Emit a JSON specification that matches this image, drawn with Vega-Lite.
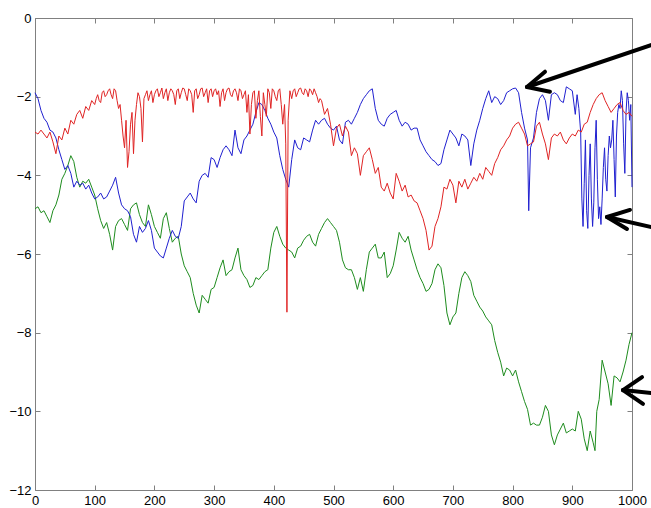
{
"$schema": "https://vega.github.io/schema/vega-lite/v6.json",
"width": 597, "height": 472,
"autosize": {"type": "none"},
"padding": {"left": 35, "top": 18, "right": 19, "bottom": 18},
"background": "white",
"config": {"view": {"stroke": null},
 "axis": {"grid": false, "title": null, "domainColor": "#808080", "tickColor": "#808080", "labelColor": "#000000", "labelFont": "Liberation Sans", "labelFontSize": 13, "tickSize": -5, "labelPadding": 9, "labelFlush": false, "labelOverlap": false, "labelBound": false, "format": "d"}},
"datasets": {
"green": [
{"x":0,"y":-4.85},{"x":5,"y":-4.8},{"x":10,"y":-4.95},{"x":15,"y":-4.9},{"x":20,"y":-5.05},{"x":25,"y":-5.2},{"x":30,"y":-4.9},{"x":35,"y":-4.75},{"x":40,"y":-4.5},{"x":45,"y":-4.1},{"x":50,"y":-3.95},{"x":55,"y":-3.75},{"x":60,"y":-3.5},{"x":65,"y":-3.65},{"x":70,"y":-4.05},{"x":75,"y":-4.3},{"x":80,"y":-4.15},{"x":85,"y":-4.2},{"x":90,"y":-4.1},{"x":95,"y":-4.3},{"x":100,"y":-4.5},{"x":105,"y":-4.85},{"x":110,"y":-5.15},{"x":115,"y":-5.35},{"x":120,"y":-5.2},{"x":125,"y":-5.5},{"x":130,"y":-5.9},{"x":135,"y":-5.3},{"x":140,"y":-5.15},{"x":145,"y":-5.1},{"x":150,"y":-5.25},{"x":155,"y":-5.4},{"x":160,"y":-4.85},{"x":165,"y":-4.75},{"x":170,"y":-4.7},{"x":175,"y":-5.0},{"x":180,"y":-5.2},{"x":185,"y":-5.3},{"x":190,"y":-4.75},{"x":195,"y":-5.0},{"x":200,"y":-5.3},{"x":205,"y":-5.45},{"x":210,"y":-5.6},{"x":215,"y":-5.1},{"x":220,"y":-4.95},{"x":225,"y":-5.35},{"x":230,"y":-5.7},{"x":235,"y":-5.6},{"x":240,"y":-5.55},{"x":245,"y":-6.0},{"x":250,"y":-6.3},{"x":255,"y":-6.45},{"x":260,"y":-6.6},{"x":265,"y":-7.0},{"x":270,"y":-7.3},{"x":275,"y":-7.5},{"x":280,"y":-7.05},{"x":285,"y":-7.15},{"x":290,"y":-7.25},{"x":295,"y":-6.9},{"x":300,"y":-6.85},{"x":305,"y":-6.6},{"x":310,"y":-6.35},{"x":315,"y":-6.15},{"x":320,"y":-6.55},{"x":325,"y":-6.45},{"x":330,"y":-6.4},{"x":335,"y":-6.1},{"x":340,"y":-5.85},{"x":345,"y":-6.4},{"x":350,"y":-6.55},{"x":355,"y":-6.65},{"x":360,"y":-6.85},{"x":365,"y":-6.8},{"x":370,"y":-6.6},{"x":375,"y":-6.65},{"x":380,"y":-6.55},{"x":385,"y":-6.45},{"x":390,"y":-6.4},{"x":395,"y":-5.85},{"x":400,"y":-5.45},{"x":405,"y":-5.3},{"x":410,"y":-5.55},{"x":415,"y":-5.75},{"x":420,"y":-5.85},{"x":425,"y":-5.9},{"x":430,"y":-5.95},{"x":435,"y":-6.1},{"x":440,"y":-5.85},{"x":445,"y":-5.8},{"x":450,"y":-5.65},{"x":455,"y":-5.55},{"x":460,"y":-5.5},{"x":465,"y":-5.7},{"x":470,"y":-5.8},{"x":475,"y":-5.5},{"x":480,"y":-5.35},{"x":485,"y":-5.2},{"x":490,"y":-5.1},{"x":495,"y":-5.2},{"x":500,"y":-5.3},{"x":505,"y":-5.4},{"x":510,"y":-5.7},{"x":515,"y":-6.15},{"x":520,"y":-6.35},{"x":525,"y":-6.4},{"x":530,"y":-6.4},{"x":535,"y":-6.6},{"x":540,"y":-6.9},{"x":545,"y":-6.6},{"x":550,"y":-6.95},{"x":555,"y":-6.4},{"x":560,"y":-5.95},{"x":565,"y":-5.85},{"x":570,"y":-5.75},{"x":575,"y":-6.1},{"x":580,"y":-6.1},{"x":585,"y":-5.95},{"x":590,"y":-6.6},{"x":595,"y":-6.5},{"x":600,"y":-6.3},{"x":605,"y":-5.9},{"x":610,"y":-5.45},{"x":615,"y":-5.6},{"x":620,"y":-5.7},{"x":625,"y":-5.55},{"x":630,"y":-5.9},{"x":635,"y":-6.15},{"x":640,"y":-6.4},{"x":645,"y":-6.6},{"x":650,"y":-6.75},{"x":655,"y":-6.95},{"x":660,"y":-6.9},{"x":665,"y":-6.75},{"x":670,"y":-6.4},{"x":675,"y":-6.25},{"x":680,"y":-6.35},{"x":685,"y":-6.8},{"x":690,"y":-7.5},{"x":695,"y":-7.8},{"x":700,"y":-7.6},{"x":705,"y":-7.5},{"x":710,"y":-7.0},{"x":715,"y":-6.6},{"x":720,"y":-6.45},{"x":725,"y":-6.55},{"x":730,"y":-6.7},{"x":735,"y":-7.05},{"x":740,"y":-7.2},{"x":745,"y":-7.35},{"x":750,"y":-7.45},{"x":755,"y":-7.6},{"x":760,"y":-7.7},{"x":765,"y":-7.8},{"x":770,"y":-8.2},{"x":775,"y":-8.5},{"x":780,"y":-8.75},{"x":785,"y":-9.1},{"x":790,"y":-8.9},{"x":795,"y":-8.95},{"x":800,"y":-9.1},{"x":805,"y":-8.95},{"x":810,"y":-9.25},{"x":815,"y":-9.5},{"x":820,"y":-9.75},{"x":825,"y":-9.95},{"x":830,"y":-10.35},{"x":835,"y":-10.3},{"x":840,"y":-10.35},{"x":845,"y":-10.35},{"x":850,"y":-10.15},{"x":855,"y":-9.85},{"x":860,"y":-10.0},{"x":865,"y":-10.6},{"x":870,"y":-10.85},{"x":875,"y":-10.6},{"x":880,"y":-10.45},{"x":885,"y":-10.3},{"x":890,"y":-10.55},{"x":895,"y":-10.5},{"x":900,"y":-10.45},{"x":905,"y":-10.5},{"x":910,"y":-10.0},{"x":915,"y":-10.2},{"x":920,"y":-10.7},{"x":925,"y":-11.0},{"x":930,"y":-10.5},{"x":935,"y":-10.8},{"x":938,"y":-11.0},{"x":941,"y":-10.0},{"x":945,"y":-9.7},{"x":950,"y":-8.7},{"x":955,"y":-9.0},{"x":960,"y":-9.3},{"x":965,"y":-9.85},{"x":970,"y":-9.1},{"x":975,"y":-9.15},{"x":980,"y":-9.25},{"x":985,"y":-9.0},{"x":990,"y":-8.7},{"x":995,"y":-8.3},{"x":1000,"y":-8.0}
],
"blue": [
{"x":0,"y":-1.9},{"x":5,"y":-2.05},{"x":10,"y":-2.35},{"x":15,"y":-2.55},{"x":20,"y":-2.65},{"x":25,"y":-2.85},{"x":30,"y":-2.9},{"x":35,"y":-3.05},{"x":40,"y":-3.35},{"x":45,"y":-3.6},{"x":50,"y":-3.85},{"x":55,"y":-3.75},{"x":60,"y":-3.95},{"x":65,"y":-4.3},{"x":70,"y":-4.15},{"x":75,"y":-4.25},{"x":80,"y":-4.2},{"x":85,"y":-4.35},{"x":90,"y":-4.25},{"x":95,"y":-4.45},{"x":100,"y":-4.6},{"x":105,"y":-4.55},{"x":110,"y":-4.45},{"x":115,"y":-4.6},{"x":120,"y":-4.55},{"x":125,"y":-4.4},{"x":130,"y":-4.25},{"x":135,"y":-4.05},{"x":140,"y":-4.45},{"x":145,"y":-4.75},{"x":150,"y":-4.85},{"x":155,"y":-4.9},{"x":160,"y":-5.05},{"x":165,"y":-5.5},{"x":170,"y":-5.7},{"x":175,"y":-5.3},{"x":180,"y":-5.45},{"x":185,"y":-5.35},{"x":190,"y":-5.15},{"x":195,"y":-5.4},{"x":200,"y":-5.85},{"x":205,"y":-5.95},{"x":210,"y":-6.05},{"x":215,"y":-6.1},{"x":220,"y":-5.85},{"x":225,"y":-5.6},{"x":230,"y":-5.4},{"x":235,"y":-5.55},{"x":240,"y":-5.6},{"x":245,"y":-5.3},{"x":250,"y":-4.65},{"x":255,"y":-4.55},{"x":260,"y":-4.45},{"x":265,"y":-4.6},{"x":270,"y":-4.7},{"x":275,"y":-4.15},{"x":280,"y":-4.0},{"x":285,"y":-3.95},{"x":290,"y":-4.05},{"x":295,"y":-3.55},{"x":300,"y":-3.6},{"x":305,"y":-3.8},{"x":310,"y":-3.55},{"x":315,"y":-3.35},{"x":320,"y":-3.25},{"x":325,"y":-3.35},{"x":330,"y":-3.5},{"x":335,"y":-2.85},{"x":340,"y":-3.3},{"x":345,"y":-3.45},{"x":350,"y":-3.1},{"x":355,"y":-3.0},{"x":360,"y":-2.85},{"x":365,"y":-2.7},{"x":370,"y":-2.4},{"x":375,"y":-2.15},{"x":380,"y":-2.2},{"x":385,"y":-2.35},{"x":390,"y":-2.55},{"x":395,"y":-2.7},{"x":400,"y":-2.9},{"x":405,"y":-3.05},{"x":410,"y":-3.5},{"x":415,"y":-3.85},{"x":420,"y":-4.1},{"x":425,"y":-4.3},{"x":430,"y":-3.6},{"x":435,"y":-3.1},{"x":440,"y":-3.3},{"x":445,"y":-3.35},{"x":450,"y":-3.05},{"x":455,"y":-3.1},{"x":460,"y":-3.15},{"x":465,"y":-2.85},{"x":470,"y":-2.6},{"x":475,"y":-2.7},{"x":480,"y":-2.6},{"x":485,"y":-2.55},{"x":490,"y":-2.7},{"x":495,"y":-2.8},{"x":500,"y":-2.85},{"x":505,"y":-2.75},{"x":510,"y":-3.1},{"x":515,"y":-3.2},{"x":520,"y":-2.65},{"x":525,"y":-2.6},{"x":530,"y":-2.7},{"x":535,"y":-2.55},{"x":540,"y":-2.4},{"x":545,"y":-2.2},{"x":550,"y":-2.05},{"x":555,"y":-1.95},{"x":560,"y":-1.85},{"x":565,"y":-1.8},{"x":570,"y":-2.3},{"x":575,"y":-2.6},{"x":580,"y":-2.7},{"x":585,"y":-2.75},{"x":590,"y":-2.55},{"x":595,"y":-2.45},{"x":600,"y":-2.4},{"x":605,"y":-2.35},{"x":610,"y":-2.6},{"x":615,"y":-2.75},{"x":620,"y":-2.65},{"x":625,"y":-2.7},{"x":630,"y":-2.85},{"x":635,"y":-2.8},{"x":640,"y":-2.8},{"x":645,"y":-3.1},{"x":650,"y":-3.25},{"x":655,"y":-3.4},{"x":660,"y":-3.5},{"x":665,"y":-3.6},{"x":670,"y":-3.65},{"x":675,"y":-3.75},{"x":680,"y":-3.7},{"x":685,"y":-3.35},{"x":690,"y":-3.1},{"x":695,"y":-2.85},{"x":700,"y":-2.95},{"x":705,"y":-3.05},{"x":710,"y":-3.25},{"x":715,"y":-2.95},{"x":720,"y":-3.0},{"x":725,"y":-3.1},{"x":730,"y":-3.75},{"x":735,"y":-3.2},{"x":740,"y":-2.85},{"x":745,"y":-2.6},{"x":750,"y":-2.3},{"x":755,"y":-2.05},{"x":760,"y":-1.85},{"x":765,"y":-2.15},{"x":770,"y":-2.0},{"x":775,"y":-2.05},{"x":780,"y":-2.2},{"x":785,"y":-2.1},{"x":790,"y":-1.9},{"x":795,"y":-1.85},{"x":800,"y":-1.8},{"x":805,"y":-1.78},{"x":810,"y":-1.9},{"x":815,"y":-2.4},{"x":820,"y":-2.8},{"x":825,"y":-3.1},{"x":827,"y":-4.9},{"x":830,"y":-3.3},{"x":835,"y":-3.05},{"x":840,"y":-2.4},{"x":845,"y":-2.05},{"x":850,"y":-1.95},{"x":855,"y":-2.1},{"x":860,"y":-2.6},{"x":865,"y":-1.95},{"x":870,"y":-1.9},{"x":875,"y":-1.95},{"x":880,"y":-2.1},{"x":885,"y":-2.15},{"x":890,"y":-1.75},{"x":895,"y":-1.8},{"x":900,"y":-1.85},{"x":905,"y":-2.45},{"x":908,"y":-1.95},{"x":911,"y":-2.3},{"x":914,"y":-2.9},{"x":916,"y":-4.6},{"x":918,"y":-5.3},{"x":920,"y":-4.2},{"x":922,"y":-3.1},{"x":924,"y":-4.9},{"x":926,"y":-5.35},{"x":928,"y":-4.0},{"x":930,"y":-3.2},{"x":932,"y":-4.6},{"x":934,"y":-5.3},{"x":936,"y":-4.7},{"x":938,"y":-3.3},{"x":940,"y":-2.6},{"x":942,"y":-4.1},{"x":944,"y":-5.1},{"x":946,"y":-4.8},{"x":948,"y":-5.25},{"x":950,"y":-4.6},{"x":952,"y":-3.8},{"x":954,"y":-3.3},{"x":956,"y":-4.1},{"x":958,"y":-4.4},{"x":960,"y":-3.5},{"x":962,"y":-3.0},{"x":964,"y":-3.3},{"x":966,"y":-3.1},{"x":968,"y":-2.6},{"x":970,"y":-3.6},{"x":972,"y":-4.55},{"x":974,"y":-3.0},{"x":976,"y":-2.4},{"x":978,"y":-2.2},{"x":980,"y":-2.3},{"x":982,"y":-1.85},{"x":984,"y":-2.1},{"x":986,"y":-3.2},{"x":988,"y":-3.95},{"x":990,"y":-2.4},{"x":992,"y":-1.9},{"x":994,"y":-2.1},{"x":996,"y":-2.6},{"x":998,"y":-2.2},{"x":1000,"y":-4.3}
],
"red": [
{"x":0,"y":-2.9},{"x":5,"y":-2.95},{"x":10,"y":-2.85},{"x":15,"y":-2.95},{"x":20,"y":-3.05},{"x":25,"y":-2.9},{"x":30,"y":-3.15},{"x":35,"y":-3.45},{"x":40,"y":-3.0},{"x":45,"y":-3.1},{"x":50,"y":-2.8},{"x":55,"y":-2.95},{"x":60,"y":-2.6},{"x":65,"y":-2.7},{"x":70,"y":-2.45},{"x":75,"y":-2.35},{"x":80,"y":-2.55},{"x":85,"y":-2.25},{"x":90,"y":-2.35},{"x":95,"y":-2.1},{"x":100,"y":-2.2},{"x":105,"y":-1.95},{"x":110,"y":-2.15},{"x":115,"y":-1.85},{"x":120,"y":-1.95},{"x":125,"y":-1.8},{"x":130,"y":-2.05},{"x":135,"y":-1.85},{"x":140,"y":-2.3},{"x":145,"y":-2.6},{"x":150,"y":-3.3},{"x":155,"y":-3.8},{"x":160,"y":-2.7},{"x":165,"y":-3.45},{"x":170,"y":-2.2},{"x":175,"y":-2.0},{"x":180,"y":-3.15},{"x":185,"y":-1.95},{"x":190,"y":-2.1},{"x":195,"y":-1.85},{"x":200,"y":-1.95},{"x":205,"y":-1.8},{"x":210,"y":-1.9},{"x":215,"y":-2.05},{"x":220,"y":-1.8},{"x":225,"y":-1.9},{"x":230,"y":-1.85},{"x":235,"y":-2.2},{"x":240,"y":-1.8},{"x":245,"y":-1.9},{"x":250,"y":-1.8},{"x":255,"y":-2.1},{"x":260,"y":-1.85},{"x":265,"y":-2.4},{"x":270,"y":-1.8},{"x":275,"y":-1.95},{"x":280,"y":-1.78},{"x":285,"y":-1.9},{"x":290,"y":-2.15},{"x":295,"y":-1.8},{"x":300,"y":-1.85},{"x":305,"y":-1.95},{"x":310,"y":-2.25},{"x":315,"y":-1.8},{"x":320,"y":-1.9},{"x":325,"y":-1.78},{"x":330,"y":-2.0},{"x":335,"y":-1.8},{"x":340,"y":-2.1},{"x":345,"y":-1.85},{"x":350,"y":-1.95},{"x":355,"y":-2.4},{"x":360,"y":-2.95},{"x":365,"y":-1.9},{"x":370,"y":-2.55},{"x":375,"y":-1.85},{"x":380,"y":-3.0},{"x":385,"y":-2.2},{"x":390,"y":-1.8},{"x":395,"y":-2.3},{"x":400,"y":-1.85},{"x":405,"y":-2.1},{"x":410,"y":-1.8},{"x":415,"y":-2.7},{"x":418,"y":-2.2},{"x":420,"y":-3.2},{"x":422,"y":-7.48},{"x":424,"y":-2.6},{"x":427,"y":-1.85},{"x":430,"y":-2.05},{"x":435,"y":-1.8},{"x":440,"y":-1.9},{"x":445,"y":-1.78},{"x":450,"y":-1.95},{"x":455,"y":-1.85},{"x":460,"y":-1.8},{"x":465,"y":-1.95},{"x":470,"y":-1.9},{"x":475,"y":-2.15},{"x":480,"y":-2.1},{"x":485,"y":-2.45},{"x":490,"y":-2.3},{"x":495,"y":-2.7},{"x":500,"y":-3.25},{"x":505,"y":-2.8},{"x":510,"y":-2.7},{"x":515,"y":-3.0},{"x":520,"y":-2.75},{"x":525,"y":-2.9},{"x":530,"y":-3.5},{"x":535,"y":-3.3},{"x":540,"y":-3.45},{"x":545,"y":-4.0},{"x":550,"y":-3.5},{"x":555,"y":-3.4},{"x":560,"y":-3.3},{"x":565,"y":-3.6},{"x":570,"y":-3.95},{"x":575,"y":-3.8},{"x":580,"y":-4.3},{"x":585,"y":-4.4},{"x":590,"y":-4.2},{"x":595,"y":-4.45},{"x":600,"y":-4.6},{"x":605,"y":-3.95},{"x":610,"y":-4.15},{"x":615,"y":-4.4},{"x":620,"y":-4.25},{"x":625,"y":-4.55},{"x":630,"y":-4.5},{"x":635,"y":-4.65},{"x":640,"y":-4.7},{"x":645,"y":-4.9},{"x":650,"y":-5.1},{"x":655,"y":-5.4},{"x":660,"y":-5.9},{"x":665,"y":-5.8},{"x":670,"y":-5.3},{"x":675,"y":-5.1},{"x":680,"y":-4.8},{"x":685,"y":-4.3},{"x":690,"y":-4.35},{"x":695,"y":-4.1},{"x":700,"y":-4.25},{"x":705,"y":-4.7},{"x":710,"y":-4.15},{"x":715,"y":-4.3},{"x":720,"y":-4.1},{"x":725,"y":-4.35},{"x":730,"y":-4.2},{"x":735,"y":-4.05},{"x":740,"y":-4.15},{"x":745,"y":-3.95},{"x":750,"y":-4.1},{"x":755,"y":-3.8},{"x":760,"y":-3.9},{"x":765,"y":-4.0},{"x":770,"y":-3.7},{"x":775,"y":-3.55},{"x":780,"y":-3.35},{"x":785,"y":-3.25},{"x":790,"y":-3.1},{"x":795,"y":-3.0},{"x":800,"y":-2.8},{"x":805,"y":-2.7},{"x":810,"y":-2.65},{"x":815,"y":-2.8},{"x":820,"y":-2.95},{"x":825,"y":-3.25},{"x":830,"y":-3.2},{"x":835,"y":-3.15},{"x":840,"y":-2.75},{"x":845,"y":-2.65},{"x":850,"y":-2.95},{"x":855,"y":-3.2},{"x":860,"y":-3.6},{"x":865,"y":-3.05},{"x":870,"y":-2.95},{"x":875,"y":-3.0},{"x":880,"y":-2.9},{"x":885,"y":-3.1},{"x":890,"y":-3.2},{"x":895,"y":-3.05},{"x":900,"y":-2.95},{"x":905,"y":-3.0},{"x":910,"y":-2.85},{"x":915,"y":-2.9},{"x":920,"y":-2.7},{"x":925,"y":-2.65},{"x":930,"y":-2.4},{"x":935,"y":-2.2},{"x":940,"y":-2.05},{"x":945,"y":-1.95},{"x":950,"y":-1.9},{"x":955,"y":-2.1},{"x":960,"y":-2.25},{"x":965,"y":-2.4},{"x":970,"y":-2.3},{"x":975,"y":-2.2},{"x":980,"y":-2.15},{"x":985,"y":-2.35},{"x":990,"y":-2.45},{"x":995,"y":-2.4},{"x":1000,"y":-2.5},
{"x":102.5,"y":-2.05},{"x":107.5,"y":-2.1},{"x":112.5,"y":-1.9},{"x":117.5,"y":-2.0},{"x":122.5,"y":-1.85},{"x":127.5,"y":-1.95},{"x":132.5,"y":-1.8},{"x":137.5,"y":-2.1},{"x":142.5,"y":-2.2},{"x":147.5,"y":-3.0},{"x":152.5,"y":-2.6},{"x":157.5,"y":-3.4},{"x":162.5,"y":-2.4},{"x":167.5,"y":-2.6},{"x":172.5,"y":-1.9},{"x":177.5,"y":-2.3},{"x":182.5,"y":-2.05},{"x":187.5,"y":-1.85},{"x":192.5,"y":-1.95},{"x":197.5,"y":-2.15},{"x":202.5,"y":-1.85},{"x":207.5,"y":-2.0},{"x":212.5,"y":-1.78},{"x":217.5,"y":-1.9},{"x":222.5,"y":-2.1},{"x":227.5,"y":-1.8},{"x":232.5,"y":-1.95},{"x":237.5,"y":-1.85},{"x":242.5,"y":-2.05},{"x":247.5,"y":-1.78},{"x":252.5,"y":-1.95},{"x":257.5,"y":-1.8},{"x":262.5,"y":-1.95},{"x":267.5,"y":-1.85},{"x":272.5,"y":-2.05},{"x":277.5,"y":-1.8},{"x":282.5,"y":-2.0},{"x":287.5,"y":-1.8},{"x":292.5,"y":-1.85},{"x":297.5,"y":-2.0},{"x":302.5,"y":-1.8},{"x":307.5,"y":-1.85},{"x":312.5,"y":-1.9},{"x":317.5,"y":-2.1},{"x":322.5,"y":-1.8},{"x":327.5,"y":-1.95},{"x":332.5,"y":-1.85},{"x":337.5,"y":-1.9},{"x":342.5,"y":-1.8},{"x":347.5,"y":-2.05},{"x":352.5,"y":-1.85},{"x":357.5,"y":-1.95},{"x":362.5,"y":-2.2},{"x":367.5,"y":-1.85},{"x":372.5,"y":-2.1},{"x":377.5,"y":-2.5},{"x":382.5,"y":-1.9},{"x":387.5,"y":-2.5},{"x":392.5,"y":-1.9},{"x":397.5,"y":-1.8},{"x":402.5,"y":-2.0},{"x":407.5,"y":-1.85},{"x":412.5,"y":-2.2},{"x":432.5,"y":-1.85},{"x":437.5,"y":-2.0},{"x":442.5,"y":-1.8},{"x":447.5,"y":-1.9},{"x":452.5,"y":-1.8},{"x":457.5,"y":-2.0},{"x":462.5,"y":-1.85},{"x":467.5,"y":-1.8},{"x":472.5,"y":-2.0},{"x":477.5,"y":-2.05}
],
"arrows": [
{"x":824.1,"y":-1.754,"x2":1047,"y2":-0.61},{"x":824.1,"y":-1.754,"x2":854.3,"y2":-1.365},{"x":824.1,"y":-1.754,"x2":862.6,"y2":-1.874},
{"x":958.1,"y":-5.06,"x2":1047,"y2":-5.365},{"x":958.1,"y":-5.06,"x2":996.6,"y2":-4.88},{"x":958.1,"y":-5.06,"x2":991.6,"y2":-5.365},
{"x":984.9,"y":-9.46,"x2":1047,"y2":-9.56},{"x":984.9,"y":-9.46,"x2":1016.8,"y2":-9.13},{"x":984.9,"y":-9.46,"x2":1018.4,"y2":-9.81}
]
},
"layer": [
{"data": {"name": "green"}, "mark": {"type": "line", "color": "#1e8c1e", "strokeWidth": 1},
 "encoding": {"x": {"field": "x", "type": "quantitative", "scale": {"domain": [0, 1000], "nice": false, "zero": false}, "axis": {"orient": "bottom", "values": [0,100,200,300,400,500,600,700,800,900,1000]}},
  "y": {"field": "y", "type": "quantitative", "scale": {"domain": [-12, 0], "nice": false, "zero": false}, "axis": {"orient": "left", "values": [0,-2,-4,-6,-8,-10,-12]}}}},
{"data": {"name": "blue"}, "mark": {"type": "line", "color": "#2020d0", "strokeWidth": 1},
 "encoding": {"x": {"field": "x", "type": "quantitative", "axis": null}, "y": {"field": "y", "type": "quantitative", "axis": null}}},
{"data": {"name": "red"}, "mark": {"type": "line", "color": "#e02424", "strokeWidth": 1},
 "encoding": {"x": {"field": "x", "type": "quantitative", "axis": null}, "y": {"field": "y", "type": "quantitative", "axis": null}}},
{"data": {"name": "arrows"}, "mark": {"type": "rule", "color": "#000000", "strokeWidth": 4, "strokeCap": "round", "clip": false},
 "encoding": {"x": {"field": "x", "type": "quantitative", "axis": {"orient": "top", "labels": false, "values": [0,100,200,300,400,500,600,700,800,900,1000]}},
  "y": {"field": "y", "type": "quantitative", "axis": {"orient": "right", "labels": false, "values": [0,-2,-4,-6,-8,-10,-12]}},
  "x2": {"field": "x2"}, "y2": {"field": "y2"}}}
],
"resolve": {"axis": {"x": "independent", "y": "independent"}}
}
